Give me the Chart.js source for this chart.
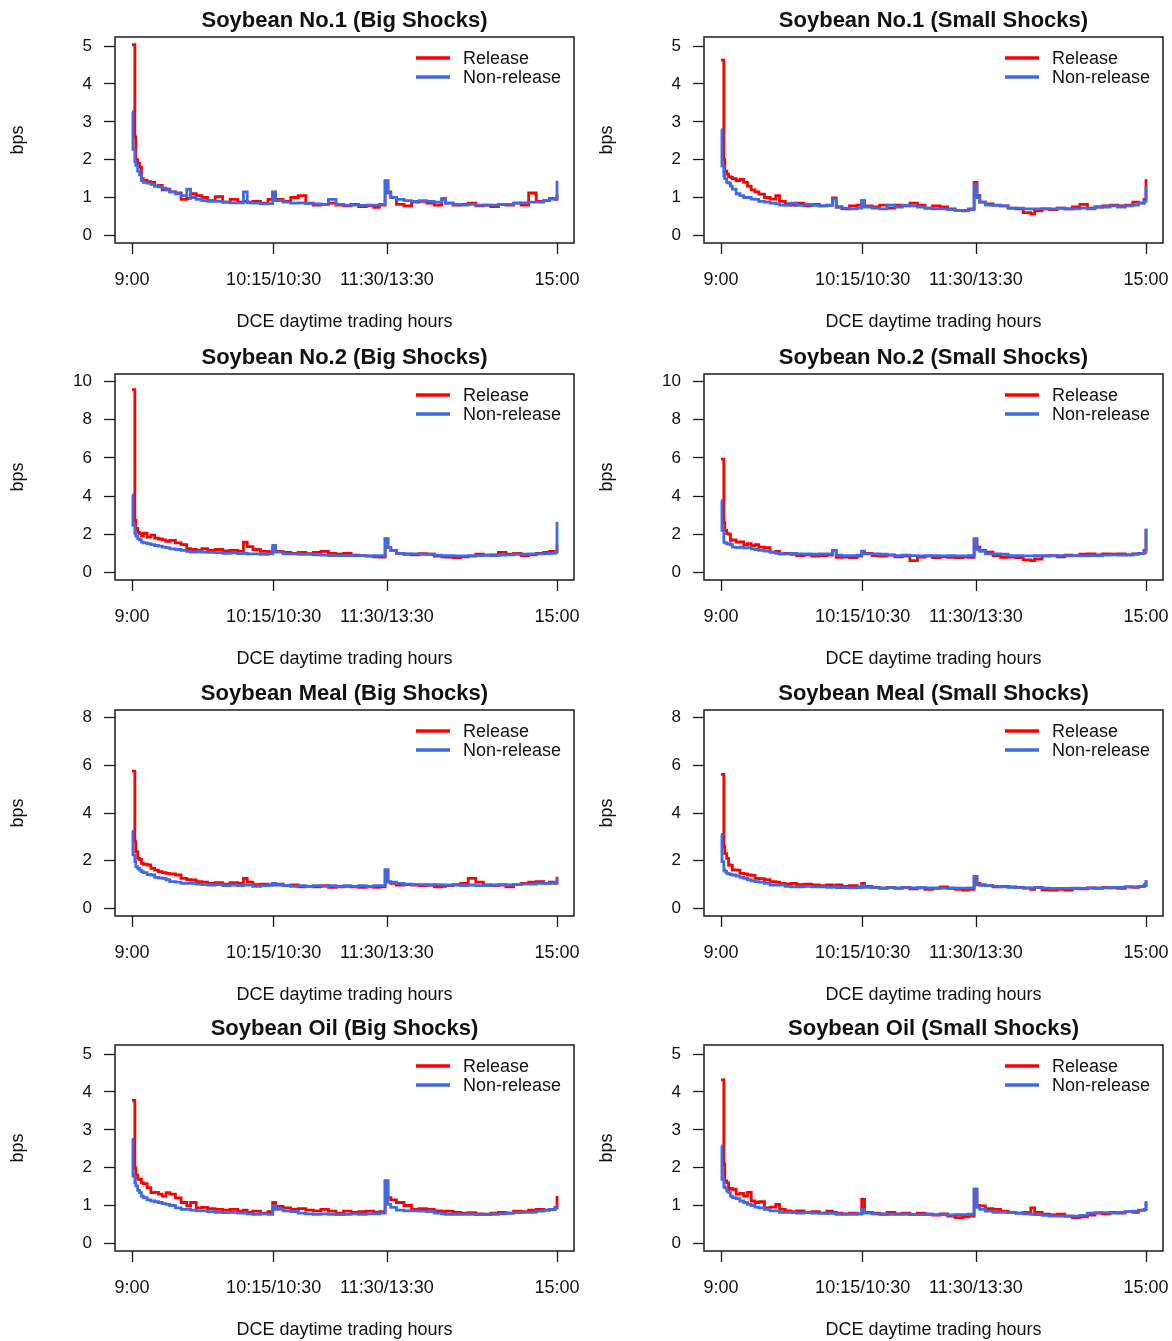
<!DOCTYPE html>
<html>
<head>
<meta charset="utf-8">
<script src="https://cdn.jsdelivr.net/npm/chart.js@4.4.1/dist/chart.umd.min.js"></script>
<style>
html, body { margin:0; padding:0; background:#fff; width:1172px; height:1341px; overflow:hidden; position:relative; }
canvas { position:absolute; }
</style>
</head>
<body>
<script>
// ---- data ----
const minutes = [0,0.5,1.5,2,3,4,5,6,8,10,12,14,16,18,20,23,26,29,31,34,37,40,44,48,52,56,59,61,64,68,72,74.5,76,80,84,88,92,96,100,104,108,112,116,120,124,128,131,134,135.5,137,140,144,148,152,156,160,164,166,170,174,178,182,186,190,194,198,202,206,210,214,218,221,224,225];
const xTickValues = [0, 75, 135, 225];
const xTickLabels = ['9:00', '10:15/10:30', '11:30/13:30', '15:00'];
const yTicksNo1 = [0,1,2,3,4,5];
const yTicksNo2 = [0,2,4,6,8,10];
const yTicksMeal = [0,2,4,6,8];
const yTicksOil = [0,1,2,3,4,5];
const yMaxNo1 = 5.04, yMaxNo2 = 10, yMaxMeal = 8, yMaxOil = 5.04;
const seriesLabels = ['Release', 'Non-release'];
const panelTitles = ['Soybean No.1 (Big Shocks)','Soybean No.1 (Small Shocks)','Soybean No.2 (Big Shocks)','Soybean No.2 (Small Shocks)','Soybean Meal (Big Shocks)','Soybean Meal (Small Shocks)','Soybean Oil (Big Shocks)','Soybean Oil (Small Shocks)'];

const no1BigRelease = [5.04,5.04,2.6,2.0,1.9,1.8,1.5,1.45, 1.42,1.4,1.3,1.32,1.2,1.22,1.15, 1.12,0.95,0.98,1.1,1.05,1.0,0.92, 1.02,0.88,0.95,0.88,0.9,0.88,0.9,0.85,0.95,1.14,0.95, 0.9,1.0,1.05,0.85,0.8,0.82,0.85,0.8,0.78,0.82,0.76,0.78,0.74,0.8, 1.44,1.15,1.0,0.82, 0.78,0.88,0.9,0.85,0.8,0.95,0.85,0.8,0.82,0.85,0.78,0.8,0.76,0.82,0.8,0.85,0.8,1.12,0.9,0.92,0.98,0.95,1.1];
const no1BigNon = [3.26,2.27,1.95,1.85,1.7,1.6,1.45,1.4, 1.38,1.35,1.3,1.28,1.25,1.2,1.15, 1.1,1.05,1.22,1.0,0.95,0.92,0.9, 0.9,0.88,0.86,0.86,1.15,0.86,0.85,0.83,0.84,1.15,0.92, 0.88,0.85,0.86,0.84,0.83,0.82,0.95,0.82,0.8,0.8,0.79,0.8,0.8,0.82, 1.44,1.12,1.0,0.95, 0.92,0.9,0.92,0.9,0.88,0.98,0.85,0.82,0.8,0.82,0.8,0.8,0.8,0.82,0.82,0.85,0.86,0.88,0.88,0.92,0.96,0.98,1.44];
const no1SmallRelease = [4.63,4.63,2.0,1.7,1.62,1.55,1.53,1.5, 1.45,1.48,1.4,1.3,1.2,1.15,1.09, 1.0,0.96,1.05,0.9,0.83,0.8,0.85, 0.78,0.82,0.78,0.8,0.99,0.75,0.7,0.78,0.8,0.92,0.78, 0.75,0.8,0.72,0.8,0.78,0.85,0.8,0.72,0.78,0.75,0.7,0.66,0.65,0.7, 1.4,1.05,0.88,0.83, 0.8,0.78,0.72,0.7,0.6,0.57,0.65,0.7,0.68,0.72,0.7,0.75,0.82,0.72,0.75,0.78,0.8,0.78,0.8,0.88,0.85,0.95,1.48];
const no1SmallNon = [2.79,1.83,1.57,1.5,1.4,1.38,1.3,1.22, 1.1,1.05,1.0,1.0,0.96,0.95,0.9, 0.88,0.85,0.83,0.8,0.79,0.85,0.79, 0.82,0.79,0.78,0.79,0.96,0.75,0.72,0.7,0.72,0.92,0.75, 0.72,0.7,0.8,0.75,0.79,0.78,0.75,0.72,0.7,0.7,0.68,0.66,0.66,0.68, 1.35,1.0,0.88,0.8, 0.79,0.78,0.72,0.72,0.7,0.7,0.7,0.7,0.7,0.72,0.7,0.7,0.72,0.7,0.75,0.75,0.78,0.75,0.78,0.8,0.85,0.9,1.31];
const no2BigRelease = [9.58,9.58,2.73,2.3,2.1,2.03,1.9,2.05, 1.85,1.95,1.8,1.75,1.7,1.62,1.68, 1.55,1.45,1.25,1.2,1.15,1.25,1.15, 1.2,1.12,1.15,1.1,1.59,1.35,1.2,1.1,1.08,1.3,1.1, 1.05,1.0,1.05,0.98,1.05,1.1,1.0,0.95,1.0,0.9,0.88,0.85,0.82,0.8, 1.76,1.3,1.15,1.0, 0.95,0.92,0.98,0.95,0.85,0.82,0.8,0.78,0.82,0.85,0.95,0.9,0.92,1.05,0.95,1.0,0.88,0.92,1.0,1.05,1.1,1.1,1.45];
const no2BigNon = [4.06,2.47,2.03,1.9,1.76,1.7,1.59,1.55, 1.5,1.45,1.41,1.38,1.32,1.3,1.23, 1.2,1.15,1.1,1.06,1.08,1.06,1.05, 1.04,1.0,1.02,0.98,1.0,0.97,0.97,0.95,0.97,1.41,1.06, 0.97,0.97,0.95,0.95,0.92,0.9,0.88,0.88,0.88,0.88,0.88,0.86,0.88,0.88, 1.76,1.3,1.15,1.0, 0.97,0.97,0.95,0.95,0.9,0.88,0.88,0.86,0.86,0.88,0.88,0.9,0.88,0.9,0.92,0.95,0.95,0.97,0.97,0.98,1.0,1.05,2.65];
const no2SmallRelease = [5.94,5.94,2.6,2.2,2.03,2.0,1.68,1.7, 1.59,1.6,1.45,1.5,1.4,1.45,1.32, 1.3,1.06,1.1,0.97,1.0,0.95,0.88, 0.92,0.85,0.88,0.9,1.15,0.79,0.8,0.78,0.85,1.06,1.0, 0.88,0.85,0.9,0.82,0.85,0.62,0.8,0.85,0.78,0.82,0.79,0.78,0.8,0.79, 1.76,1.32,1.15,1.06, 0.88,0.79,0.8,0.78,0.65,0.62,0.7,0.85,0.88,0.82,0.9,0.88,0.95,0.97,0.92,0.97,0.95,0.97,0.92,0.97,1.0,1.15,2.29];
const no2SmallNon = [3.76,2.2,1.59,1.55,1.5,1.5,1.45,1.32, 1.3,1.32,1.28,1.3,1.23,1.2,1.15, 1.12,1.06,1.0,0.97,0.97,1.0,0.97, 0.97,0.95,0.97,0.97,1.15,0.9,0.88,0.88,0.9,1.11,0.97, 0.97,0.95,0.92,0.88,0.9,0.88,0.86,0.88,0.88,0.86,0.88,0.86,0.86,0.88, 1.76,1.2,1.1,0.97, 0.97,0.95,0.88,0.88,0.86,0.86,0.88,0.88,0.86,0.88,0.86,0.88,0.86,0.88,0.88,0.9,0.92,0.9,0.92,0.95,1.0,1.05,2.29];
const mealBigRelease = [5.76,5.76,2.8,2.38,2.1,2.05,1.89,1.85, 1.82,1.68,1.6,1.54,1.5,1.47,1.45, 1.4,1.26,1.2,1.19,1.12,1.1,1.05, 1.08,1.02,1.08,1.05,1.26,1.1,1.0,1.02,0.98,1.05,1.02, 0.95,0.98,0.9,0.92,0.9,0.95,0.88,0.9,0.92,0.9,0.88,0.9,0.88,0.9, 1.61,1.1,1.05,0.98, 1.0,0.98,0.95,0.98,0.9,0.92,0.95,1.0,1.05,1.26,1.1,0.98,0.95,0.98,0.9,1.0,1.05,1.1,1.12,1.05,1.1,1.05,1.33];
const mealBigNon = [3.24,2.24,1.96,1.75,1.68,1.6,1.54,1.5, 1.42,1.4,1.3,1.28,1.26,1.2,1.12, 1.1,1.05,1.05,1.05,1.02,1.0,0.98, 1.0,0.95,0.98,0.95,0.98,0.98,0.92,0.95,0.98,1.05,0.98, 0.96,0.92,0.95,0.92,0.95,0.92,0.95,0.92,0.95,0.92,0.95,0.92,0.95,0.95, 1.61,1.12,1.1,1.05, 1.02,1.0,1.0,0.98,1.0,0.98,0.98,0.98,0.95,0.98,0.95,0.95,0.98,1.0,0.98,1.0,1.02,1.02,1.05,1.05,1.05,1.08,1.26];
const mealSmallRelease = [5.62,5.62,2.59,2.3,2.1,1.82,1.8,1.61, 1.6,1.47,1.45,1.4,1.38,1.26,1.25, 1.2,1.12,1.1,1.05,1.02,1.05,1.0, 1.02,0.98,0.95,0.98,0.95,0.98,0.92,0.95,0.9,1.05,0.92, 0.88,0.84,0.88,0.84,0.88,0.82,0.86,0.8,0.84,0.9,0.84,0.8,0.77,0.8, 1.33,1.05,0.98,0.95, 0.9,0.92,0.9,0.88,0.85,0.8,0.88,0.78,0.77,0.8,0.77,0.84,0.82,0.86,0.84,0.88,0.86,0.84,0.9,0.88,0.92,0.98,1.12];
const mealSmallNon = [3.1,1.96,1.61,1.55,1.47,1.45,1.42,1.4, 1.35,1.3,1.26,1.2,1.15,1.12,1.1, 1.05,0.98,0.98,0.98,0.92,0.9,0.9, 0.92,0.9,0.9,0.88,0.9,0.87,0.87,0.86,0.87,0.95,0.88, 0.87,0.86,0.87,0.86,0.87,0.86,0.87,0.86,0.86,0.85,0.86,0.85,0.85,0.86, 1.33,1.0,0.98,0.95, 0.92,0.9,0.88,0.87,0.86,0.85,0.87,0.85,0.84,0.84,0.84,0.85,0.84,0.85,0.86,0.86,0.88,0.88,0.9,0.9,0.92,0.95,1.19];
const oilBigRelease = [3.78,3.78,2.0,1.8,1.69,1.7,1.6,1.58, 1.47,1.34,1.35,1.3,1.25,1.34,1.3, 1.2,1.08,0.99,1.08,0.94,0.95,0.92, 0.9,0.88,0.9,0.85,0.88,0.82,0.85,0.8,0.84,1.08,0.98, 0.94,0.9,0.92,0.88,0.86,0.9,0.85,0.8,0.85,0.82,0.84,0.85,0.82,0.84, 1.65,1.21,1.15,1.08, 1.0,0.9,0.92,0.9,0.86,0.84,0.85,0.82,0.8,0.81,0.78,0.77,0.8,0.82,0.8,0.85,0.84,0.88,0.9,0.88,0.9,0.95,1.25];
const oilBigNon = [2.75,1.78,1.6,1.52,1.4,1.34,1.25,1.21, 1.15,1.12,1.1,1.08,1.05,1.03,1.0, 0.94,0.9,0.9,0.88,0.86,0.86,0.84, 0.82,0.81,0.82,0.8,0.8,0.78,0.77,0.78,0.77,0.99,0.9, 0.86,0.84,0.8,0.78,0.77,0.78,0.77,0.76,0.77,0.78,0.77,0.78,0.78,0.8, 1.65,1.03,0.95,0.88, 0.86,0.86,0.85,0.84,0.8,0.78,0.77,0.77,0.77,0.77,0.76,0.76,0.77,0.78,0.8,0.81,0.82,0.82,0.85,0.88,0.9,0.93,1.03];
const oilSmallRelease = [4.32,4.32,2.09,1.65,1.6,1.43,1.45,1.43, 1.3,1.32,1.25,1.35,1.12,1.08,1.1, 0.94,0.96,1.03,0.9,0.86,0.84,0.86, 0.82,0.84,0.8,0.85,0.82,0.8,0.78,0.8,0.78,1.16,0.82, 0.8,0.77,0.82,0.78,0.8,0.76,0.8,0.77,0.75,0.78,0.72,0.68,0.7,0.72, 1.43,1.0,0.99,0.92, 0.9,0.85,0.82,0.8,0.82,0.94,0.82,0.77,0.75,0.77,0.72,0.68,0.7,0.75,0.8,0.78,0.82,0.8,0.84,0.82,0.88,0.9,1.08];
const oilSmallNon = [2.57,1.69,1.5,1.47,1.38,1.34,1.25,1.21, 1.18,1.12,1.08,1.03,1.0,0.96,0.94, 0.9,0.86,0.86,0.82,0.82,0.81,0.8, 0.81,0.8,0.8,0.79,0.79,0.77,0.77,0.77,0.78,0.9,0.8, 0.78,0.78,0.77,0.77,0.77,0.76,0.76,0.77,0.76,0.76,0.75,0.76,0.76,0.77, 1.43,0.95,0.9,0.85, 0.82,0.82,0.81,0.8,0.78,0.77,0.76,0.74,0.72,0.72,0.72,0.72,0.74,0.8,0.81,0.81,0.8,0.82,0.84,0.85,0.87,0.9,1.12];

// ---- panels built from the arrays above ----
const panels = [
  {title: panelTitles[0], rel: no1BigRelease,    non: no1BigNon,    yTicks: yTicksNo1,  yMax: yMaxNo1},
  {title: panelTitles[1], rel: no1SmallRelease,  non: no1SmallNon,  yTicks: yTicksNo1,  yMax: yMaxNo1},
  {title: panelTitles[2], rel: no2BigRelease,    non: no2BigNon,    yTicks: yTicksNo2,  yMax: yMaxNo2},
  {title: panelTitles[3], rel: no2SmallRelease,  non: no2SmallNon,  yTicks: yTicksNo2,  yMax: yMaxNo2},
  {title: panelTitles[4], rel: mealBigRelease,   non: mealBigNon,   yTicks: yTicksMeal, yMax: yMaxMeal},
  {title: panelTitles[5], rel: mealSmallRelease, non: mealSmallNon, yTicks: yTicksMeal, yMax: yMaxMeal},
  {title: panelTitles[6], rel: oilBigRelease,    non: oilBigNon,    yTicks: yTicksOil,  yMax: yMaxOil},
  {title: panelTitles[7], rel: oilSmallRelease,  non: oilSmallNon,  yTicks: yTicksOil,  yMax: yMaxOil}
];

const FONT = "'Liberation Sans', Arial, Helvetica, sans-serif";
const colLeft = [0, 589];
const rowTop = [0, 337, 673, 1008];

const framePlugin = {
  id: 'frame',
  afterDraw(chart) {
    const {ctx, chartArea: a} = chart;
    ctx.save();
    ctx.strokeStyle = '#1a1a1a';
    ctx.lineWidth = 1.5;
    ctx.strokeRect(Math.round(a.left), Math.round(a.top), Math.round(a.right - a.left), Math.round(a.bottom - a.top));
    ctx.restore();
  }
};

const rLegendPlugin = {
  id: 'rlegend',
  afterDatasetsDraw(chart) {
    const {ctx, chartArea: a} = chart;
    chart.data.datasets.forEach((ds, i) => {
      const y = a.top + 21 + i * 19;
      ctx.save();
      ctx.strokeStyle = ds.borderColor;
      ctx.lineWidth = 3.5;
      ctx.beginPath();
      ctx.moveTo(a.right - 158, y);
      ctx.lineTo(a.right - 124, y);
      ctx.stroke();
      ctx.fillStyle = '#111';
      ctx.font = '18px ' + FONT;
      ctx.textBaseline = 'middle';
      ctx.textAlign = 'left';
      ctx.fillText(ds.label, a.right - 111, y + 1);
      ctx.restore();
    });
  }
};

function gridOpts() {
  return {display: true, drawOnChartArea: false, drawTicks: true, tickLength: 11, color: '#1a1a1a', tickColor: '#1a1a1a', tickWidth: 1.3};
}

panels.forEach((p, k) => {
  const col = k % 2, row = Math.floor(k / 2);
  const cv = document.createElement('canvas');
  cv.width = 586; cv.height = 335;
  cv.style.left = colLeft[col] + 'px';
  cv.style.top = rowTop[row] + 'px';
  cv.style.width = '586px'; cv.style.height = '335px';
  document.body.appendChild(cv);
  new Chart(cv, {
    type: 'line',
    data: {
      datasets: [
        {label: seriesLabels[0], data: minutes.map((m, i) => ({x: m, y: p.rel[i]})), borderColor: '#ff0000', backgroundColor: '#ff0000', borderWidth: 2.8, pointRadius: 0, stepped: true, fill: false, order: 1},
        {label: seriesLabels[1], data: minutes.map((m, i) => ({x: m, y: p.non[i]})), borderColor: '#4169e1', backgroundColor: '#4169e1', borderWidth: 2.8, pointRadius: 0, stepped: true, fill: false, order: 0}
      ]
    },
    options: {
      responsive: false, animation: false, devicePixelRatio: 1,
      layout: {padding: {left: 0, right: 12, top: 0, bottom: 0}},
      plugins: {
        legend: {display: false},
        tooltip: {enabled: false},
        title: {display: true, text: p.title, fullSize: false, color: '#111', font: {family: FONT, size: 22, weight: 'bold'}, padding: {top: 7.5, bottom: 3.1}}
      },
      scales: {
        x: {
          type: 'linear', position: 'bottom', min: -9, max: 234,
          afterBuildTicks: s => { s.ticks = xTickValues.map(v => ({value: v})); },
          afterFit: s => { s.height = 92; s.paddingLeft = 0; s.paddingRight = 0; },
          ticks: {autoSkip: false, maxRotation: 0, minRotation: 0, padding: 15, color: '#111', font: {family: FONT, size: 18},
                  callback: v => xTickLabels[xTickValues.indexOf(v)]},
          grid: gridOpts(),
          border: {display: false},
          title: {display: true, text: 'DCE daytime trading hours', color: '#111', font: {family: FONT, size: 18}, padding: {top: 0, bottom: 2}}
        },
        y: {
          type: 'linear', position: 'left', min: -0.04 * p.yMax, max: 1.04 * p.yMax,
          afterBuildTicks: s => { s.ticks = p.yTicks.map(v => ({value: v})); },
          afterFit: s => { s.width = 115; s.paddingTop = 0; s.paddingBottom = 0; },
          ticks: {padding: 12, color: '#111', font: {family: FONT, size: 17}, callback: v => String(v)},
          grid: gridOpts(),
          border: {display: false},
          title: {display: true, text: 'bps', color: '#111', font: {family: FONT, size: 18}, padding: {top: 7, bottom: 0}}
        }
      }
    },
    plugins: [framePlugin, rLegendPlugin]
  });
});
</script>
</body>
</html>
